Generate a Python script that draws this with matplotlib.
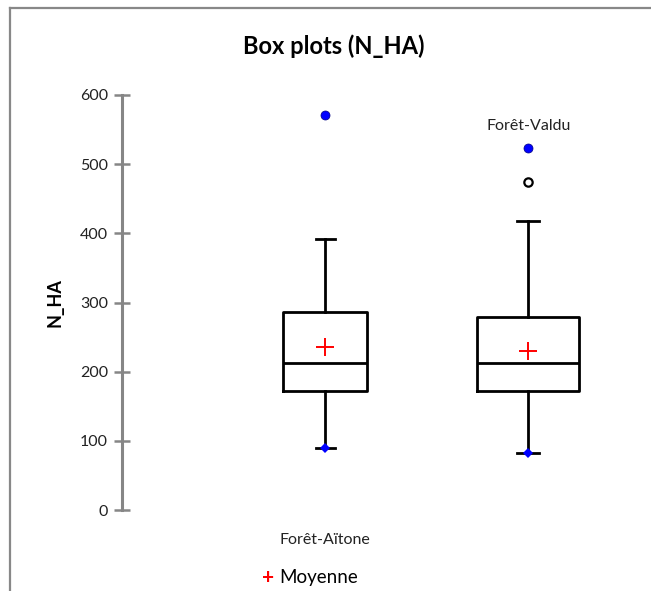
import matplotlib
matplotlib.use("Agg")
import matplotlib.pyplot as plt
from matplotlib.lines import Line2D

plt.rcParams['font.family'] = ['Lato', 'DejaVu Sans']

categories = ['Forêt-Aïtone', 'Forêt-Valdu']
q1 = [172, 172]
median = [213, 213]
q3 = [286, 279]
whisker_low = [90, 82]
whisker_high = [392, 418]
means = [236, 230]
minimum = [90, 82]
maximum = [571, 523]
outliers = [[], [474]]
yticks = [0, 100, 200, 300, 400, 500, 600]

positions = [1, 2]
box_widths = [0.41, 0.50]
cap_widths = [0.093, 0.11]

fig = plt.figure(figsize=(6.51, 5.91), dpi=100)
ax = fig.add_axes([122/651, 81/591, (640-122)/651, 415/591])

stats = []
for i in range(2):
    stats.append(dict(med=median[i], q1=q1[i], q3=q3[i],
                      whislo=whisker_low[i], whishi=whisker_high[i],
                      fliers=[], label=categories[i]))

lw = 2.0
ax.bxp(stats, positions=positions, widths=box_widths, capwidths=cap_widths,
       showfliers=False, patch_artist=False,
       boxprops=dict(color='black', linewidth=lw),
       medianprops=dict(color='black', linewidth=lw),
       whiskerprops=dict(color='black', linewidth=lw),
       capprops=dict(color='black', linewidth=lw), zorder=2)

# means
ax.plot(positions, means, linestyle='none', marker='+', color='red',
        markersize=13, markeredgewidth=1.4, zorder=4)
# min / max
ax.plot(positions, minimum, linestyle='none', marker='D', color='blue',
        markersize=5.5, markeredgewidth=0, zorder=4)
ax.plot(positions, maximum, linestyle='none', marker='o', color='blue',
        markeredgecolor='#000080', markersize=6.5, markeredgewidth=0.5, zorder=4)
# outliers
for p, outs in zip(positions, outliers):
    if outs:
        ax.plot([p]*len(outs), outs, linestyle='none', marker='o',
                markerfacecolor='white', markeredgecolor='black',
                markersize=6, markeredgewidth=1.6, zorder=4)

ax.set_xlim(0, 2.55)
ax.set_ylim(0, 600)
ax.set_yticks(yticks)
ax.set_yticklabels([str(t) for t in yticks], fontsize=11.5, color='#222222')
ax.set_xticks([])
for s in ['top', 'right', 'bottom']:
    ax.spines[s].set_visible(False)
ax.spines['left'].set_color('#868686')
ax.spines['left'].set_linewidth(2.2)
ax.tick_params(axis='y', direction='inout', length=12, width=1.8,
               color='#868686', pad=4)
ax.set_ylabel('N_HA', fontsize=13, fontweight='bold', labelpad=12)

# category labels (as placed in reference)
ax.text(positions[0], -44, categories[0], ha='center', va='center', fontsize=11.5,
        color='#222222', clip_on=False)
ax.text(positions[1], 555, categories[1], ha='center', va='center', fontsize=11.5,
        color='#222222', clip_on=False)

fig.text(334/651, 1 - 46/591, 'Box plots (N_HA)', ha='center', va='center',
         fontsize=17, fontweight='bold')

# legend
fig.text(268/651, 1 - 578/591, '+', ha='center', va='center', fontsize=15,
         fontweight='bold', color='red')
fig.text(279/651, 1 - 578/591, 'Moyenne', ha='left', va='center', fontsize=13.5,
         color='black')

# chart frame (top and left)
fig.add_artist(Line2D([9.5/651, 9.5/651], [0, 1 - 8/591], color='#888888',
                      linewidth=1.6, transform=fig.transFigure))
fig.add_artist(Line2D([9.5/651, 1], [1 - 8/591, 1 - 8/591], color='#888888',
                      linewidth=1.6, transform=fig.transFigure))

fig.savefig('out.png', dpi=100, facecolor='white')
